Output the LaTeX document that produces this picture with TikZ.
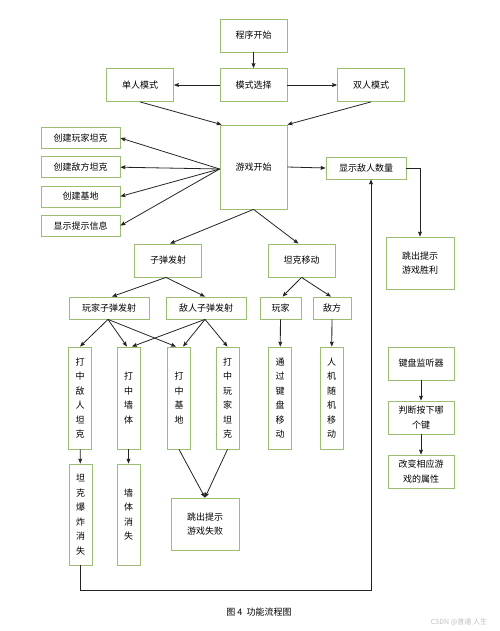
\documentclass[tikz,border=0pt]{standalone}
\usepackage{fontspec}
\usetikzlibrary{arrows.meta}
\newfontfamily\cjk{Noto Sans CJK SC}
\definecolor{boxgreen}{RGB}{155,190,115}
\definecolor{linegray}{RGB}{35,35,35}

\begin{document}
\begin{tikzpicture}
   [
      x=1pt, y=-1pt,
      >={Stealth[length=5pt, width=4pt, inset=0.8pt]},
      every node/.style={font=\cjk\fontsize{9}{14.5}\selectfont, text=black},
      item/.style={rectangle, draw=boxgreen, line width=0.8pt, inner sep=0pt,
      minimum width=67pt, minimum height=33pt, align=center},
      bar/.style={item, minimum width=80pt, minimum height=22pt},
      tall/.style={item, minimum width=23pt, minimum height=102pt},
      flow/.style={->, draw=linegray, line width=0.8pt}
   ]
   \useasboundingbox (0,0) rectangle (499,631);

   % top part
   \node[item] (start) at (253.5,35.5) {程序开始};
   \node[item] (modesel) at (253.5,85) {模式选择};
   \node[item] (single) at (140,85) {单人模式};
   \node[item] (double) at (371,85) {双人模式};
   \node[item, minimum height=84pt] (game) at (253.5,167) {游戏开始};

   \foreach \t [count=\i] in {创建玩家坦克,创建敌方坦克,创建基地,显示提示信息}
      \node[bar, minimum width=79pt, minimum height=21pt] (create\i) at (80.5,{108.8+29.2*\i}) {\t};

   \node[bar] (count) at (366,168) {显示敌人数量};
   \node[item, minimum width=68pt, minimum height=52pt] (win) at (420,263) {跳出提示\\游戏胜利};

   % bullets and moving
   \node[item] (fire) at (168,260.5) {子弹发射};
   \node[item] (move) at (301.5,260.5) {坦克移动};
   \node[bar] (pfire) at (109,308) {玩家子弹发射};
   \node[bar] (efire) at (206,308) {敌人子弹发射};
   \node[bar, minimum width=41pt] (player) at (280.5,308) {玩家};
   \node[bar, minimum width=38pt] (enemy) at (332,308) {敌方};

   \node[tall] (hitE) at (80,398) {打\\中\\敌\\人\\坦\\克};
   \node[tall] (hitW) at (128.5,398) {打\\中\\墙\\体};
   \node[tall] (hitB) at (179,398) {打\\中\\基\\地};
   \node[tall] (hitP) at (227.5,398) {打\\中\\玩\\家\\坦\\克};
   \node[tall] (keymove) at (280,398) {通\\过\\键\\盘\\移\\动};
   \node[tall] (randmove) at (331.5,398) {人\\机\\随\\机\\移\\动};

   \node[tall, minimum height=101pt] (boom) at (80.5,514.5) {坦\\克\\爆\\炸\\消\\失};
   \node[tall, minimum height=101pt] (wallgone) at (128.5,514.5) {墙\\体\\消\\失};
   \node[item, minimum width=68pt, minimum height=52pt] (lose) at (205,524) {跳出提示\\游戏失败};

   % keyboard
   \node[item, minimum width=66pt] (listen) at (421,363.5) {键盘监听器};
   \node[item, minimum width=66pt] (judge) at (421,417.5) {判断按下哪\\个键};
   \node[item, minimum width=66pt] (change) at (421,471.5) {改变相应游\\戏的属性};

   \node (caption) at (259,612) {图 4\ \ 功能流程图};
   \node[font=\cjk\fontsize{7}{8}\selectfont, text=black!25] (mark) at (459,622) {CSDN @普通 人生};

   % connectors
   \draw[flow] (start) -- (modesel);
   \draw[flow] (modesel) -- (single);
   \draw[flow] (modesel) -- (double);
   \draw[flow] (single.south) -- ([xshift=2pt]game.north west);
   \draw[flow] (double.south) -- (game.north east);
   \foreach \i in {1,...,4}
      \draw[flow] ([yshift=-2pt]game.west) -- (create\i.east);
   \draw[flow] (game.east) -- (count.west);
   \draw[flow] (count.east) -| (win.north);

   \draw[flow] (game.south) -- ([xshift=2pt]fire.north);
   \draw[flow] (game.south) -- ([xshift=-3pt]move.north);
   \draw[flow] ([xshift=-2pt]fire.south) -- ([xshift=3pt]pfire.north);
   \draw[flow] ([xshift=-2pt]fire.south) -- ([xshift=-1pt]efire.north);
   \draw[flow] (move.south) -- ([xshift=2pt]player.north);
   \draw[flow] (move.south) -- ([xshift=-1pt]enemy.north);

   \foreach \h/\s in {hitE/0,hitW/-1.5,hitB/-3}
      \draw[flow] ([xshift=-1pt]pfire.south) -- ([xshift=\s pt]\h.north);
   \foreach \h/\s in {hitW/3.5,hitB/4,hitP/0}
      \draw[flow] ([xshift=-1pt]efire.south) -- ([xshift=\s pt]\h.north);
   \draw[flow] (player) -- (keymove);
   \draw[flow] (enemy) -- (randmove);
   \draw[flow] (hitE) -- (boom);
   \draw[flow] (hitW) -- (wallgone);
   \draw[flow] (hitB.south) -- (lose.north);
   \draw[flow] (hitP.south) -- (lose.north);
   \draw[flow] (boom.south) -- ++(0,25) -| ([xshift=5pt]count.south);

   \draw[flow] (listen) -- (judge);
   \draw[flow] (judge) -- (change);
\end{tikzpicture}
\end{document}
